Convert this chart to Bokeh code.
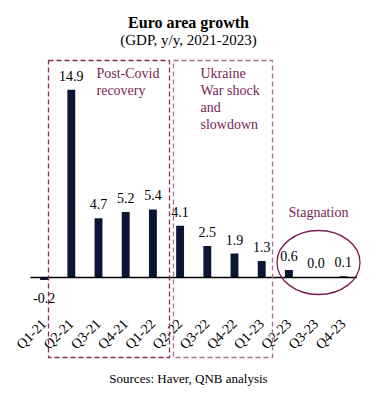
import math
from bokeh.plotting import figure
from bokeh.models import ColumnDataSource
from bokeh.core.properties import value
from bokeh.embed import file_html
from bokeh.resources import INLINE

# ---- data ----
quarters = ["Q1-21", "Q2-21", "Q3-21", "Q4-21", "Q1-22", "Q2-22",
            "Q3-22", "Q4-22", "Q1-23", "Q2-23", "Q3-23", "Q4-23"]
growth = [-0.2, 14.9, 4.7, 5.2, 5.4, 4.1, 2.5, 1.9, 1.3, 0.6, 0.04, 0.1]

title_text = "Euro area growth"
subtitle_text = "(GDP, y/y, 2021-2023)"
source_text = "Sources: Haver, QNB analysis"
recovery_lines = ["Post-Covid", "recovery"]
war_lines = ["Ukraine", "War shock", "and", "slowdown"]
stagnation_lines = ["Stagnation"]

# ---- layout helpers (screen px -> data units) ----
W, H = 378, 396
PX_X = 27.2
PX_Y = 12.6
X0 = 30.0   # screen x of left end of the zero line
Y0 = 277.0  # screen y of the zero line


def dx(s):
    return (s - X0) / PX_X - 0.5


def dy(s):
    return (Y0 - s) / PX_Y


FONT = "Liberation Serif"
NAVY = "#0b1535"
MAROON = "#7b1d55"

xs = list(range(len(quarters)))
labels = [f"{v:.1f}" for v in growth]
offsets = [18 if v < 0 else -14 for v in growth]
src = ColumnDataSource(dict(x=xs, top=growth, label=labels, off=offsets,
                            q=quarters, qy=[dy(321)] * len(quarters)))

p = figure(width=W, height=H, output_backend="svg", toolbar_location=None,
           x_range=(dx(0), dx(W)), y_range=(dy(H), dy(0)),
           x_axis_location=None, y_axis_location=None, min_border=0)
p.outline_line_color = None
p.grid.visible = False
p.background_fill_color = "white"
p.border_fill_color = "white"

# bars
p.vbar(x="x", top="top", width=0.29, source=src, fill_color=NAVY, line_color=None)

# zero line
p.segment(x0=[-0.5], y0=[0], x1=[len(quarters) - 0.5], y1=[0],
          line_color="black", line_width=1.5)

# value labels
p.text(x="x", y="top", text="label", source=src, y_offset="off",
       text_align="center", text_baseline="middle",
       text_font=value(FONT), text_font_size="14px", text_color="black")

# category labels (rotated)
p.text(x="x", y="qy", text="q", source=src, angle=math.pi / 4,
       text_align="right", text_baseline="middle", x_offset=0,
       text_font=value(FONT), text_font_size="14px", text_color="black")

# phase boxes (dashed)
p.quad(left=[dx(48)], right=[dx(169)], top=[dy(60)], bottom=[dy(357)],
       fill_color=None, line_color="#8c2a5e", line_dash="5 3", line_width=1.3)
p.quad(left=[dx(173)], right=[dx(272)], top=[dy(60)], bottom=[dy(357)],
       fill_color=None, line_color="#a96f90", line_dash="5 3", line_width=1.3)

# stagnation ellipse
p.ellipse(x=[dx(318)], y=[dy(262)], width=83 / PX_X, height=64 / PX_Y,
          fill_color=None, line_color=MAROON, line_width=1.3)


# phase texts
def phase_text(lines, sx, sy):
    p.text(x=[dx(sx)] * len(lines), y=[dy(sy + 17 * i) for i in range(len(lines))],
           text=lines, text_align="left", text_baseline="middle",
           text_font=value(FONT), text_font_size="14px", text_color=MAROON)


phase_text(recovery_lines, 96, 73)
phase_text(war_lines, 200, 73)
phase_text(stagnation_lines, 288, 212)

# titles and source
p.text(x=[dx(188)], y=[dy(22)], text=[title_text], text_align="center",
       text_baseline="middle", text_font=value(FONT), text_font_size="16px",
       text_font_style="bold", text_color="black")
p.text(x=[dx(188)], y=[dy(39)], text=[subtitle_text], text_align="center",
       text_baseline="middle", text_font=value(FONT), text_font_size="15px",
       text_color="black")
p.text(x=[dx(188)], y=[dy(378)], text=[source_text], text_align="center",
       text_baseline="middle", text_font=value(FONT), text_font_size="13px",
       text_color="black")

open("out.html", "w").write(file_html(p, INLINE))
